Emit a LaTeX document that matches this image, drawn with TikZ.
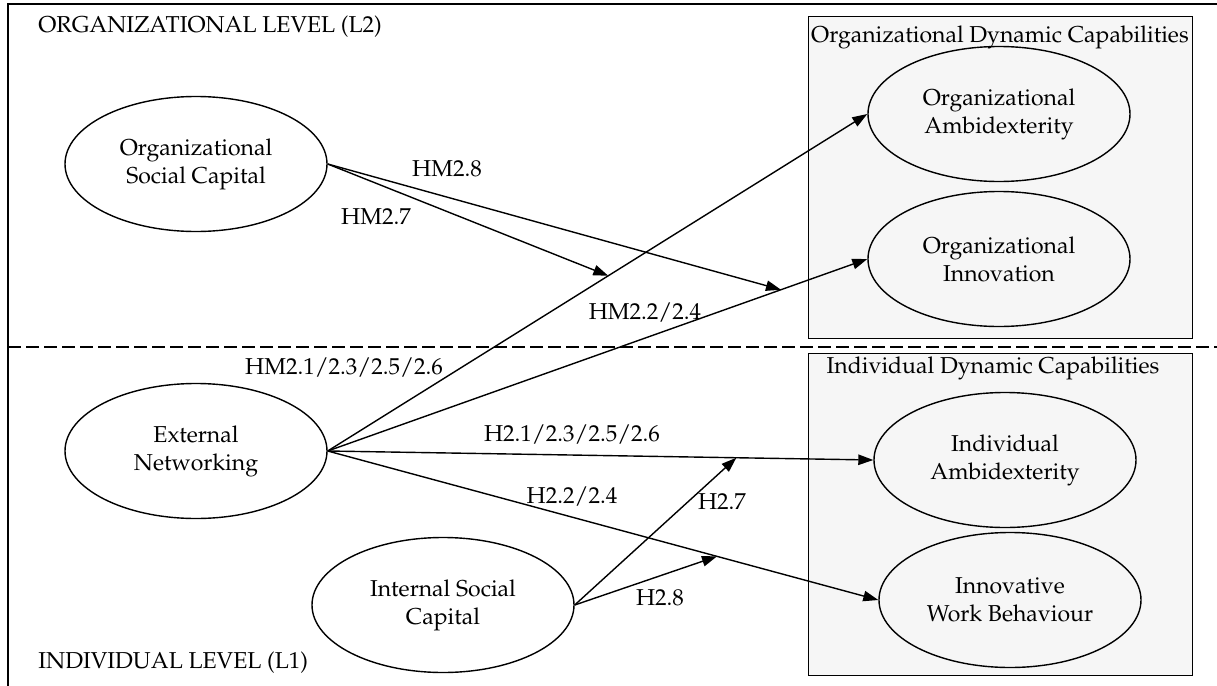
\documentclass[tikz,border=0pt]{standalone}
\usepackage[T1]{fontenc}
\renewcommand{\rmdefault}{ppl}
\usetikzlibrary{shapes.geometric,arrows.meta,calc}
\definecolor{boxgrey}{HTML}{F6F6F6}
\newcommand\lblfont{\fontsize{11.5}{14}\selectfont}
\begin{document}
\begin{tikzpicture}[x=0.5pt,y=-0.5pt,
  construct/.style={ellipse, draw, line width=0.7pt, minimum width=131pt, minimum height=67.5pt, inner sep=0pt, align=center, font=\lblfont},
  capbox/.style={draw, fill=boxgrey, line width=0.7pt, anchor=north west, minimum width=192pt, minimum height=161pt, inner sep=0pt},
  lab/.style={font=\lblfont, inner sep=0pt},
  conn/.style={line width=0.7pt, -{Triangle[length=7.5pt,width=5.2pt]}},
  frameline/.style={line width=1.1pt},
  levelline/.style={line width=0.7pt, dash pattern=on 6.5pt off 2.5pt}]
\useasboundingbox (0,0) rectangle (1217,686);
% frame
\coordinate (fbl) at (8,686);
\coordinate (ftl) at (8,4);
\coordinate (ftr) at (1217,4);
\draw[frameline] (fbl) -- (ftl) -- (ftr);
% level separator
\coordinate (dl) at (8,347);
\coordinate (dr) at (1217,347);
\draw[levelline] (dl) -- (dr);
% boxes
\node[capbox] (odc) at (808,16) {};
\node[capbox] (idc) at (808,353) {};
\node[lab] (odct) at (1000,37) {Organizational Dynamic Capabilities};
\node[lab] (idct) at (993,368) {Individual Dynamic Capabilities};
% level labels
\node[lab, anchor=west] (l2) at (38,27) {ORGANIZATIONAL LEVEL (L2)};
\node[lab, anchor=west] (l1) at (38,663) {INDIVIDUAL LEVEL (L1)};
% constructs
\node[construct, fill=white] (osc) at (196,164) {Organizational\\Social Capital};
\node[construct, fill=white] (en) at (196,451) {External\\Networking};
\node[construct, fill=white] (isc) at (443,605) {Internal Social\\Capital};
\node[construct] (oa) at (999,114) {Organizational\\Ambidexterity};
\node[construct] (oi) at (999,259) {Organizational\\Innovation};
\node[construct] (ia) at (1005,460) {Individual\\Ambidexterity};
\node[construct] (iwb) at (1010,600) {Innovative\\Work Behaviour};
% main paths
\draw[conn] (en.east) -- (oa.west);
\draw[conn] (en.east) -- (oi.west);
\draw[conn] (en.east) -- (ia.west);
\draw[conn] (en.east) -- (iwb.west);
% moderation targets
\coordinate (m27o) at ($(en.east)!0.52!(oa.west)$);
\coordinate (m28o) at ($(en.east)!0.84!(oi.west)$);
\coordinate (m27i) at ($(en.east)!0.749!(ia.west)$);
\coordinate (m28i) at ($(en.east)!0.707!(iwb.west)$);
\draw[conn] (osc.east) -- (m27o);
\draw[conn] (osc.east) -- (m28o);
\draw[conn] (isc.east) -- (m27i);
\draw[conn] (isc.east) -- (m28i);
% path labels
\node[lab] (lhm28) at (447,169) {HM2.8};
\node[lab] (lhm27) at (376,217) {HM2.7};
\node[lab] (lhm224) at (645,313) {HM2.2/2.4};
\node[lab] (lhm21) at (344,368) {HM2.1/2.3/2.5/2.6};
\node[lab] (lh21) at (572,435) {H2.1/2.3/2.5/2.6};
\node[lab] (lh224) at (572,497) {H2.2/2.4};
\node[lab] (lh27) at (722,502) {H2.7};
\node[lab] (lh28) at (660,598) {H2.8};
\end{tikzpicture}
\end{document}
